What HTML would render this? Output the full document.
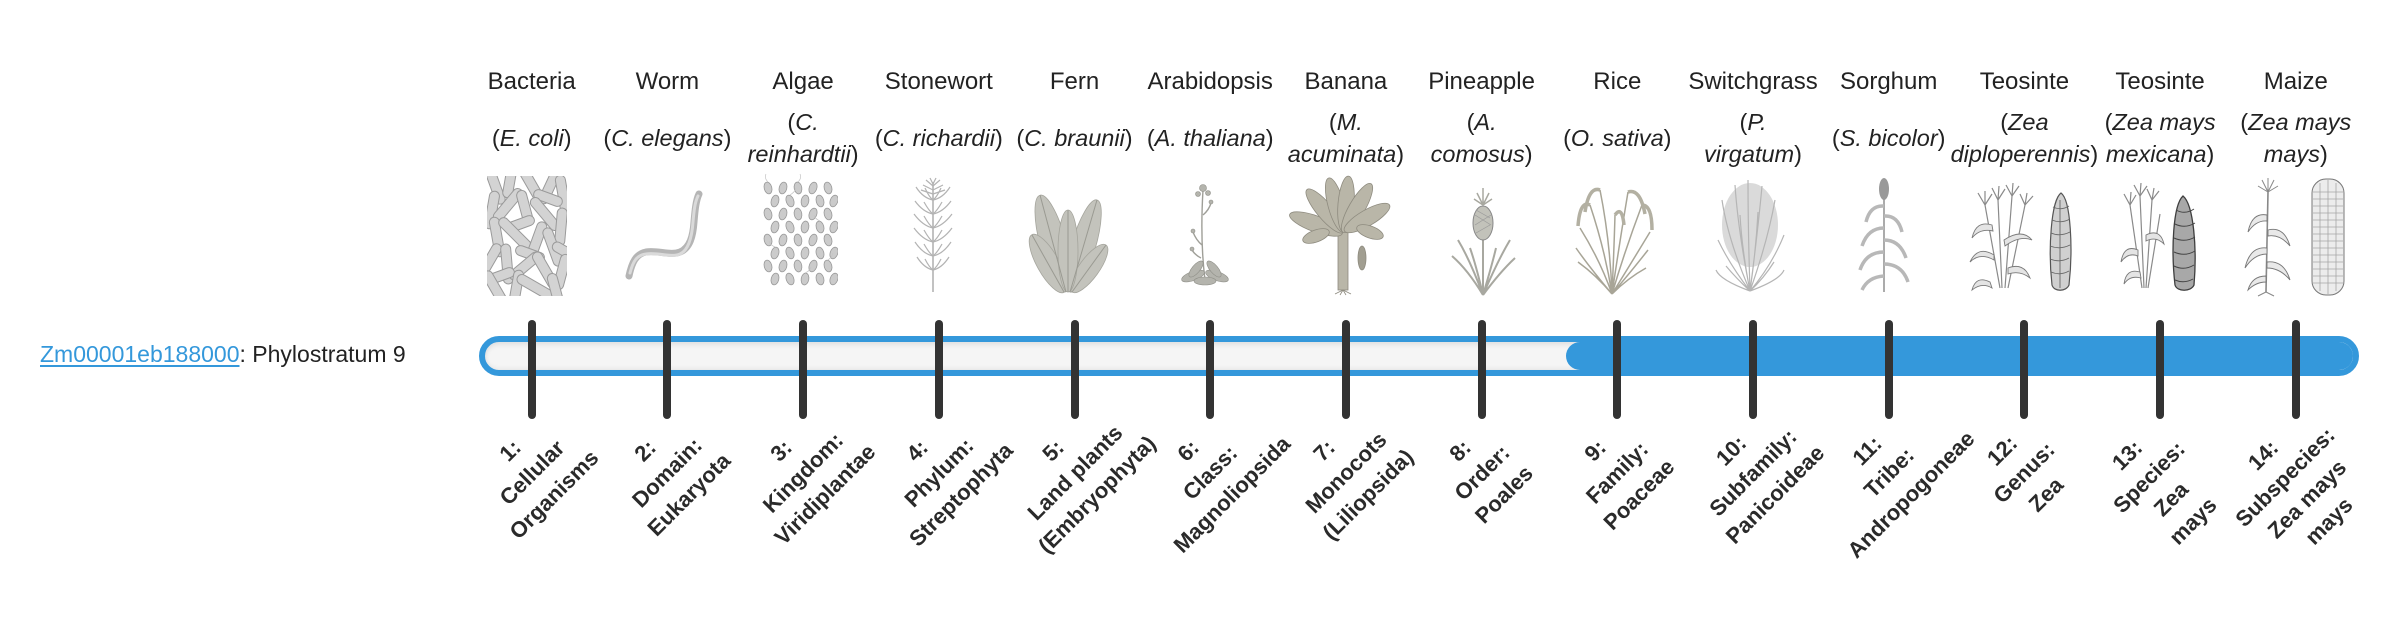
<!DOCTYPE html>
<html><head><meta charset="utf-8">
<style>
html,body{margin:0;padding:0;background:#fff;}
body{width:2400px;height:580px;overflow:hidden;position:relative;font-family:"Liberation Sans",sans-serif;color:#212529;}
svg.art{position:absolute;left:0;top:0;z-index:0;}
.gene{position:absolute;left:40px;top:334px;font-size:23px;line-height:40px;white-space:nowrap;color:#222;}
.gene .lnk{color:#3498db;text-decoration:underline;text-decoration-thickness:2px;text-underline-offset:3px;}
.track{position:absolute;left:479px;top:336px;width:1880px;height:40px;box-sizing:border-box;border:6px solid #3498db;border-radius:20px;background:#f5f5f5;box-shadow:inset 0 3px 5px rgba(0,0,0,0.08),inset 0 -2px 4px rgba(0,0,0,0.05);z-index:1;}
.fill{position:absolute;left:1081px;top:0;right:0;height:28px;background:#3498db;border-radius:14px;}
.col{position:absolute;left:var(--x);top:0;width:0;height:0;z-index:2;}
.nm{position:absolute;left:-80px;width:160px;top:66px;line-height:32px;font-size:24px;text-align:center;white-space:nowrap;color:#222;}
.sci{position:absolute;left:-80px;width:160px;top:106px;height:64px;display:flex;align-items:center;justify-content:center;text-align:center;line-height:32px;font-size:23.5px;white-space:nowrap;color:#222;}
.tick{position:absolute;left:-4px;top:320px;width:8px;height:99px;border-radius:4px;background:#333;}
.lab{position:absolute;left:-150px;width:300px;top:425.5px;line-height:31px;font-size:22px;font-weight:bold;text-align:center;white-space:nowrap;color:#2a2a2a;transform:rotate(-45deg);transform-origin:50% 50%;}
</style></head>
<body>
<svg class="art" width="2400" height="580" viewBox="0 0 2400 580" xmlns="http://www.w3.org/2000/svg">
<defs>
<clipPath id="cb"><rect x="487" y="176" width="80" height="120"/></clipPath>
<clipPath id="ca"><rect x="761" y="180" width="77" height="110"/></clipPath>
</defs>
<!-- 1 Bacteria -->
<g clip-path="url(#cb)" fill="#d3d3d3" stroke="#9a9a9a" stroke-width="1">
<rect x="-20" y="-5" width="40" height="10" rx="5" transform="translate(495 185) rotate(70)"/>
<rect x="-18" y="-5" width="36" height="10" rx="5" transform="translate(510 180) rotate(100)"/>
<rect x="-20" y="-5" width="40" height="10" rx="5" transform="translate(530 182) rotate(60)"/>
<rect x="-19" y="-5" width="38" height="10" rx="5" transform="translate(550 186) rotate(115)"/>
<rect x="-20" y="-5" width="40" height="10" rx="5" transform="translate(563 195) rotate(80)"/>
<rect x="-15" y="-5" width="30" height="10" rx="5" transform="translate(548 198) rotate(20)"/>
<rect x="-19" y="-5" width="38" height="10" rx="5" transform="translate(492 210) rotate(100)"/>
<rect x="-20" y="-5" width="40" height="10" rx="5" transform="translate(508 205) rotate(130)"/>
<rect x="-18" y="-5" width="36" height="10" rx="5" transform="translate(525 208) rotate(75)"/>
<rect x="-20" y="-5" width="40" height="10" rx="5" transform="translate(545 214) rotate(50)"/>
<rect x="-15" y="-5" width="30" height="10" rx="5" transform="translate(520 224) rotate(160)"/>
<rect x="-19" y="-5" width="38" height="10" rx="5" transform="translate(561 227) rotate(95)"/>
<rect x="-20" y="-5" width="40" height="10" rx="5" transform="translate(497 237) rotate(80)"/>
<rect x="-21" y="-5" width="42" height="10" rx="5" transform="translate(515 234) rotate(45)"/>
<rect x="-19" y="-5" width="38" height="10" rx="5" transform="translate(537 240) rotate(110)"/>
<rect x="-15" y="-5" width="30" height="10" rx="5" transform="translate(530 254) rotate(20)"/>
<rect x="-20" y="-5" width="40" height="10" rx="5" transform="translate(553 247) rotate(70)"/>
<rect x="-15" y="-5" width="30" height="10" rx="5" transform="translate(566 252) rotate(30)"/>
<rect x="-18" y="-5" width="36" height="10" rx="5" transform="translate(490 260) rotate(120)"/>
<rect x="-20" y="-5" width="40" height="10" rx="5" transform="translate(507 264) rotate(85)"/>
<rect x="-19" y="-5" width="38" height="10" rx="5" transform="translate(525 266) rotate(140)"/>
<rect x="-20" y="-5" width="40" height="10" rx="5" transform="translate(545 270) rotate(60)"/>
<rect x="-18" y="-5" width="36" height="10" rx="5" transform="translate(562 272) rotate(105)"/>
<rect x="-15" y="-5" width="30" height="10" rx="5" transform="translate(500 276) rotate(160)"/>
<rect x="-19" y="-5" width="38" height="10" rx="5" transform="translate(495 288) rotate(60)"/>
<rect x="-20" y="-5" width="40" height="10" rx="5" transform="translate(516 290) rotate(100)"/>
<rect x="-20" y="-5" width="40" height="10" rx="5" transform="translate(535 287) rotate(30)"/>
<rect x="-19" y="-5" width="38" height="10" rx="5" transform="translate(556 292) rotate(75)"/>
</g>
<!-- 2 Worm -->
<path d="M629 276 C632 262 636 254 646 252 C658 250 670 256 680 252 C690 248 693 236 694 222 C695 210 696 200 699 194" stroke="#b5b5b5" stroke-width="7" fill="none" stroke-linecap="round"/>
<path d="M630 273 C633 261 637 255 646 254 C658 252 670 258 680 254 C689 250 692 236 693 222 C694 210 695 202 698 196" stroke="#dadada" stroke-width="3" fill="none" stroke-linecap="round"/>
<!-- 3 Algae -->
<g clip-path="url(#ca)" fill="#cbcbcb" stroke="#999" stroke-width="0.8">
<g id="arow">
<ellipse rx="3.8" ry="6" transform="translate(768 188) rotate(-15)"/>
<ellipse rx="3.8" ry="6" transform="translate(783 188) rotate(15)"/>
<ellipse rx="3.8" ry="6" transform="translate(798 188) rotate(-10)"/>
<ellipse rx="3.8" ry="6" transform="translate(813 188) rotate(20)"/>
<ellipse rx="3.8" ry="6" transform="translate(828 188) rotate(-15)"/>
<ellipse rx="3.8" ry="6" transform="translate(775 201) rotate(15)"/>
<ellipse rx="3.8" ry="6" transform="translate(790 201) rotate(-20)"/>
<ellipse rx="3.8" ry="6" transform="translate(805 201) rotate(10)"/>
<ellipse rx="3.8" ry="6" transform="translate(820 201) rotate(-15)"/>
<ellipse rx="3.8" ry="6" transform="translate(834 201) rotate(20)"/>
</g>
<use href="#arow" y="26"/>
<use href="#arow" y="52"/>
<use href="#arow" y="78"/>
</g>
<g fill="none" stroke="#c4c4c4" stroke-width="0.7">
<path d="M768 182 q-4 -4 -2 -8 M798 182 q4 -4 2 -8 M790 195 q5 -3 6 -7 M820 221 q-5 -2 -6 -6 M775 247 q-5 -2 -6 -6 M805 273 q5 -2 6 -6 M828 260 q4 -3 5 -7"/>
</g>
<!-- 4 Stonewort -->
<g fill="none" stroke="#b3b3b3" stroke-width="1.2">
<path d="M933 292 L933 182" stroke-width="1.6"/>
<path d="M933 200 q-10 -2 -17 -13 M933 200 q10 -2 17 -13 M933 200 q-4 -3 -8 -12 M933 200 q4 -3 8 -12"/>
<path d="M933 214 q-10 -2 -18 -13 M933 214 q10 -2 18 -13 M933 214 q-4 -3 -9 -12 M933 214 q4 -3 9 -12"/>
<path d="M933 228 q-10 -2 -19 -14 M933 228 q10 -2 19 -14 M933 228 q-4 -3 -9 -12 M933 228 q4 -3 9 -12"/>
<path d="M933 242 q-10 -2 -19 -14 M933 242 q10 -2 19 -14 M933 242 q-4 -3 -9 -12 M933 242 q4 -3 9 -12"/>
<path d="M933 256 q-10 -2 -18 -14 M933 256 q10 -2 18 -14 M933 256 q-4 -3 -9 -12 M933 256 q4 -3 9 -12"/>
<path d="M933 270 q-9 -2 -16 -13 M933 270 q9 -2 16 -13 M933 270 q-4 -3 -8 -11 M933 270 q4 -3 8 -11"/>
<path d="M933 186 l-7 -6 M933 186 l7 -6 M933 190 l-10 -5 M933 190 l10 -5 M933 184 l-3 -6 M933 184 l3 -6 M933 194 l-12 -4 M933 194 l12 -4"/>
</g>
<!-- 5 Fern -->
<g fill="#c3c3bc" stroke="#a5a59d" stroke-width="0.8">
<ellipse cx="1053" cy="243.5" rx="50" ry="13" transform="rotate(-105 1053 243.5)"/>
<ellipse cx="1083.5" cy="246" rx="48" ry="12" transform="rotate(-73.6 1083.5 246)"/>
<ellipse cx="1048" cy="263.5" rx="33" ry="11" transform="rotate(-119.3 1048 263.5)"/>
<ellipse cx="1089" cy="268.5" rx="29" ry="10" transform="rotate(-54 1089 268.5)"/>
<ellipse cx="1068" cy="251" rx="41" ry="10" transform="rotate(-90 1068 251)"/>
</g>
<g fill="none" stroke="#9a9a92" stroke-width="1">
<path d="M1066 292 L1040 195 M1070 292 L1097 200 M1064 292 L1032 235 M1072 292 L1106 245 M1068 292 L1068 210"/>
</g>
<!-- 6 Arabidopsis -->
<g fill="none" stroke="#9f9f98" stroke-width="1.4">
<path d="M1205 280 Q1200 240 1203 190"/>
<path d="M1202 245 Q1196 240 1193 232 M1201 258 Q1195 255 1192 250 M1203 215 Q1209 210 1211 203"/>
</g>
<g fill="#b4b4ad" stroke="#8f8f88" stroke-width="0.6">
<circle cx="1203" cy="188" r="3.5"/><circle cx="1198" cy="194" r="2.5"/><circle cx="1208" cy="193" r="2.5"/>
<circle cx="1193" cy="231" r="2"/><circle cx="1192" cy="249" r="2"/><circle cx="1211" cy="202" r="2"/>
<ellipse cx="1193" cy="276" rx="12" ry="4.5" transform="rotate(-20 1193 276)"/>
<ellipse cx="1217" cy="276" rx="12" ry="4.5" transform="rotate(20 1217 276)"/>
<ellipse cx="1196" cy="269" rx="10" ry="4" transform="rotate(-50 1196 269)"/>
<ellipse cx="1214" cy="269" rx="10" ry="4" transform="rotate(50 1214 269)"/>
<ellipse cx="1205" cy="281" rx="11" ry="4"/>
</g>
<!-- 7 Banana -->
<g fill="#b9b6a8" stroke="#8e8b7f" stroke-width="0.8">
<rect x="1338" y="232" width="10" height="58"/>
<ellipse cx="1316" cy="224" rx="28" ry="8" transform="rotate(-160 1316 224)"/>
<ellipse cx="1325" cy="211" rx="28" ry="8" transform="rotate(-130 1325 211)"/>
<ellipse cx="1336" cy="205" rx="28" ry="8" transform="rotate(-105 1336 205)"/>
<ellipse cx="1346" cy="204" rx="28" ry="8" transform="rotate(-85 1346 204)"/>
<ellipse cx="1357" cy="208" rx="28" ry="8" transform="rotate(-60 1357 208)"/>
<ellipse cx="1367" cy="218" rx="26" ry="8" transform="rotate(-30 1367 218)"/>
<ellipse cx="1370" cy="232" rx="14" ry="6" transform="rotate(20 1370 232)"/>
<ellipse cx="1316" cy="236" rx="14" ry="6" transform="rotate(-20 1316 236)"/>
<ellipse cx="1362" cy="258" rx="4" ry="12" fill="#a19e91"/>
</g>
<path d="M1343 290 l-8 4 M1343 290 l8 4 M1343 290 l-3 5 M1343 290 l3 5" stroke="#8e8b7f" stroke-width="0.8" fill="none"/>
<!-- 8 Pineapple -->
<g fill="none" stroke="#a8a8a0" stroke-width="2">
<path d="M1483 295 Q1468 270 1452 256 M1483 295 Q1470 260 1458 240 M1483 295 Q1476 265 1470 248 M1483 295 Q1492 265 1496 248 M1483 295 Q1498 260 1510 240 M1483 295 Q1500 272 1515 258 M1483 295 L1483 240"/>
<path d="M1483 205 l-6 -12 M1483 205 l6 -12 M1483 205 l0 -17 M1483 205 l-9 -6 M1483 205 l9 -6" stroke-width="1.5"/>
</g>
<ellipse cx="1483" cy="223" rx="10" ry="17" fill="#c2c2ba" stroke="#888" stroke-width="1"/>
<path d="M1475 215 l16 10 M1475 225 l16 -10 M1476 233 l14 -8 M1476 210 l14 8" stroke="#999" stroke-width="0.7" fill="none"/>
<!-- 9 Rice -->
<g fill="none" stroke="#a8a597" stroke-width="1.5">
<path d="M1612 294 Q1600 260 1580 228 M1612 294 Q1605 250 1590 205 M1612 294 Q1610 240 1600 190 M1612 294 Q1614 250 1615 215 M1612 294 Q1620 240 1628 192 M1612 294 Q1625 250 1642 205 M1612 294 Q1630 265 1650 232 M1612 294 Q1596 275 1578 262 M1612 294 Q1628 278 1646 268 M1612 294 Q1590 268 1576 248 M1612 294 Q1634 268 1648 250"/>
<path d="M1590 205 Q1580 200 1578 226 M1600 190 Q1589 186 1585 212 M1628 192 Q1640 188 1645 214 M1642 205 Q1652 205 1652 230 M1615 215 Q1622 205 1624 225" stroke-width="3.5" stroke="#b3b0a2"/>
</g>
<!-- 10 Switchgrass -->
<ellipse cx="1750" cy="225" rx="28" ry="42" fill="#dadada"/>
<g fill="none" stroke="#b5b5b5" stroke-width="1.2">
<path d="M1750 291 Q1730 265 1718 240 M1750 291 Q1728 240 1722 200 M1750 291 Q1738 230 1735 185 M1750 291 Q1748 230 1748 180 M1750 291 Q1758 230 1762 186 M1750 291 Q1768 240 1775 200 M1750 291 Q1772 265 1784 235 M1750 291 Q1736 278 1726 266 M1750 291 Q1764 278 1774 262 M1750 291 Q1742 250 1740 215 M1750 291 Q1756 250 1758 212 M1750 291 Q1720 280 1716 270 M1750 291 Q1780 280 1784 270"/>
</g>
<!-- 11 Sorghum -->
<g fill="none" stroke="#ababab">
<path d="M1884 292 L1884 195" stroke-width="2"/>
<path d="M1884 206 Q1870 205 1866 222 M1884 216 Q1898 215 1902 232 M1884 228 Q1868 228 1862 246 M1884 240 Q1900 240 1906 258 M1884 252 Q1866 252 1860 270 M1884 264 Q1902 264 1908 282 M1884 276 Q1868 277 1862 290" stroke-width="3.5" stroke="#b8b8b8"/>
</g>
<ellipse cx="1884" cy="189" rx="5" ry="11" fill="#999"/>
<!-- 12 Teosinte -->
<g fill="none" stroke="#8a8a8a" stroke-width="1.2">
<path d="M2000 288 L1985 205 M2002 288 L1998 200 M2005 288 L2012 196 M2008 288 L2025 205"/>
<path d="M1985 205 l-7 -12 M1985 205 l0 -14 M1985 205 l7 -11 M1998 200 l-6 -12 M1998 200 l1 -14 M1998 200 l7 -11 M2012 196 l-6 -11 M2012 196 l1 -13 M2012 196 l7 -10 M2025 205 l-5 -11 M2025 205 l2 -12 M2025 205 l8 -9"/>
</g>
<g fill="#e4e4e4" stroke="#7a7a7a" stroke-width="0.9">
<path d="M1994 255 Q1978 245 1970 262 Q1980 252 1994 260 Z"/>
<path d="M2004 240 Q2022 228 2032 240 Q2020 235 2005 246 Z"/>
<path d="M1992 225 Q1976 220 1972 238 Q1980 228 1993 231 Z"/>
<path d="M2008 268 Q2024 262 2030 278 Q2020 270 2008 274 Z"/>
<path d="M1990 282 Q1976 275 1972 290 Q1982 282 1992 288 Z"/>
</g>
<path d="M2061 193 C2071 200 2073 250 2069 285 C2066 292 2054 292 2052 285 C2048 250 2051 200 2061 193 Z" fill="#d0d0d0" stroke="#555" stroke-width="1.2"/>
<path d="M2053 207 q8 4 16 -1 M2052 220 q9 4 18 -1 M2051 233 q9 4 19 -1 M2050 246 q10 4 20 -1 M2050 259 q10 4 19 -1 M2051 272 q9 4 18 -1 M2060 200 l0 88" stroke="#666" stroke-width="0.9" fill="none"/>
<!-- 13 Teosinte mexicana -->
<g fill="none" stroke="#8a8a8a" stroke-width="1.2">
<path d="M2142 288 L2130 205 M2144 288 L2140 196 M2146 288 L2152 200 M2148 288 L2160 214"/>
<path d="M2130 205 l-6 -11 M2130 205 l1 -13 M2130 205 l6 -10 M2140 196 l-6 -11 M2140 196 l1 -13 M2140 196 l7 -10 M2152 200 l-5 -11 M2152 200 l2 -12 M2152 200 l7 -9"/>
</g>
<g fill="#e4e4e4" stroke="#7a7a7a" stroke-width="0.9">
<path d="M2138 250 Q2124 244 2121 262 Q2128 252 2138 256 Z"/>
<path d="M2146 235 Q2160 228 2164 244 Q2156 236 2146 241 Z"/>
<path d="M2140 272 Q2126 268 2124 284 Q2130 275 2141 278 Z"/>
</g>
<path d="M2183 196 C2194 205 2197 250 2194 285 C2191 292 2177 292 2175 285 C2171 250 2173 205 2183 196 Z" fill="#a8a8a8" stroke="#3e3e3e" stroke-width="1.3"/>
<path d="M2176 210 q9 5 18 -1 M2175 224 q10 5 20 -1 M2174 238 q11 5 21 -1 M2174 252 q11 5 21 -1 M2174 266 q10 5 20 -1 M2175 280 q9 4 18 -1" stroke="#444" stroke-width="1" fill="none"/>
<!-- 14 Maize -->
<g fill="none" stroke="#888" stroke-width="1.6">
<path d="M2266 292 L2268 192"/>
<path d="M2268 192 l-6 -12 M2268 192 l0 -14 M2268 192 l6 -12 M2268 192 l-10 -6 M2268 192 l10 -6" stroke-width="1"/>
<path d="M2266 292 l-8 4 M2266 292 l8 4" stroke-width="1"/>
</g>
<g fill="#e9e9e9" stroke="#777" stroke-width="0.9">
<path d="M2267 215 Q2252 212 2248 232 Q2256 220 2267 221 Z"/>
<path d="M2268 230 Q2284 226 2290 246 Q2280 234 2268 236 Z"/>
<path d="M2267 248 Q2250 246 2245 268 Q2254 254 2267 254 Z"/>
<path d="M2267 262 Q2284 260 2290 280 Q2280 268 2267 268 Z"/>
<path d="M2266 276 Q2252 276 2248 290 Q2256 282 2266 282 Z"/>
</g>
<rect x="2312" y="179" width="32" height="116" rx="14" fill="#ececec" stroke="#777" stroke-width="1"/>
<g stroke="#a5a5a5" stroke-width="0.8" fill="none">
<path d="M2313 192 h30 M2313 199 h30 M2313 206 h30 M2313 213 h30 M2313 220 h30 M2313 227 h30 M2313 234 h30 M2313 241 h30 M2313 248 h30 M2313 255 h30 M2313 262 h30 M2313 269 h30 M2313 276 h30 M2313 283 h30"/>
<path d="M2320 183 v108 M2328 180 v114 M2336 183 v108"/>
</g>
</svg>

<div class="gene"><span class="lnk">Zm00001eb188000</span>: Phylostratum 9</div>

<div class="track"><div class="fill"></div></div>

<div class="col" style="--x:531.7px"><div class="nm">Bacteria</div><div class="sci"><span>(<i>E. coli</i>)</span></div><div class="tick"></div><div class="lab">1:<br>Cellular<br>Organisms</div></div>
<div class="col" style="--x:667.4px"><div class="nm">Worm</div><div class="sci"><span>(<i>C. elegans</i>)</span></div><div class="tick"></div><div class="lab">2:<br>Domain:<br>Eukaryota</div></div>
<div class="col" style="--x:803.1px"><div class="nm">Algae</div><div class="sci"><span>(<i>C.</i><br><i>reinhardtii</i>)</span></div><div class="tick"></div><div class="lab">3:<br>Kingdom:<br>Viridiplantae</div></div>
<div class="col" style="--x:938.8px"><div class="nm">Stonewort</div><div class="sci"><span>(<i>C. richardii</i>)</span></div><div class="tick"></div><div class="lab">4:<br>Phylum:<br>Streptophyta</div></div>
<div class="col" style="--x:1074.5px"><div class="nm">Fern</div><div class="sci"><span>(<i>C. braunii</i>)</span></div><div class="tick"></div><div class="lab">5:<br>Land plants<br>(Embryophyta)</div></div>
<div class="col" style="--x:1210.2px"><div class="nm">Arabidopsis</div><div class="sci"><span>(<i>A. thaliana</i>)</span></div><div class="tick"></div><div class="lab">6:<br>Class:<br>Magnoliopsida</div></div>
<div class="col" style="--x:1345.9px"><div class="nm">Banana</div><div class="sci"><span>(<i>M.</i><br><i>acuminata</i>)</span></div><div class="tick"></div><div class="lab">7:<br>Monocots<br>(Liliopsida)</div></div>
<div class="col" style="--x:1481.6px"><div class="nm">Pineapple</div><div class="sci"><span>(<i>A.</i><br><i>comosus</i>)</span></div><div class="tick"></div><div class="lab">8:<br>Order:<br>Poales</div></div>
<div class="col" style="--x:1617.3px"><div class="nm">Rice</div><div class="sci"><span>(<i>O. sativa</i>)</span></div><div class="tick"></div><div class="lab">9:<br>Family:<br>Poaceae</div></div>
<div class="col" style="--x:1753px"><div class="nm">Switchgrass</div><div class="sci"><span>(<i>P.</i><br><i>virgatum</i>)</span></div><div class="tick"></div><div class="lab">10:<br>Subfamily:<br>Panicoideae</div></div>
<div class="col" style="--x:1888.7px"><div class="nm">Sorghum</div><div class="sci"><span>(<i>S. bicolor</i>)</span></div><div class="tick"></div><div class="lab">11:<br>Tribe:<br>Andropogoneae</div></div>
<div class="col" style="--x:2024.4px"><div class="nm">Teosinte</div><div class="sci"><span>(<i>Zea</i><br><i>diploperennis</i>)</span></div><div class="tick"></div><div class="lab">12:<br>Genus:<br>Zea</div></div>
<div class="col" style="--x:2160.1px"><div class="nm">Teosinte</div><div class="sci"><span>(<i>Zea mays</i><br><i>mexicana</i>)</span></div><div class="tick"></div><div class="lab">13:<br>Species:<br>Zea<br>mays</div></div>
<div class="col" style="--x:2295.8px"><div class="nm">Maize</div><div class="sci"><span>(<i>Zea mays</i><br><i>mays</i>)</span></div><div class="tick"></div><div class="lab">14:<br>Subspecies:<br>Zea mays<br>mays</div></div>
</body></html>
